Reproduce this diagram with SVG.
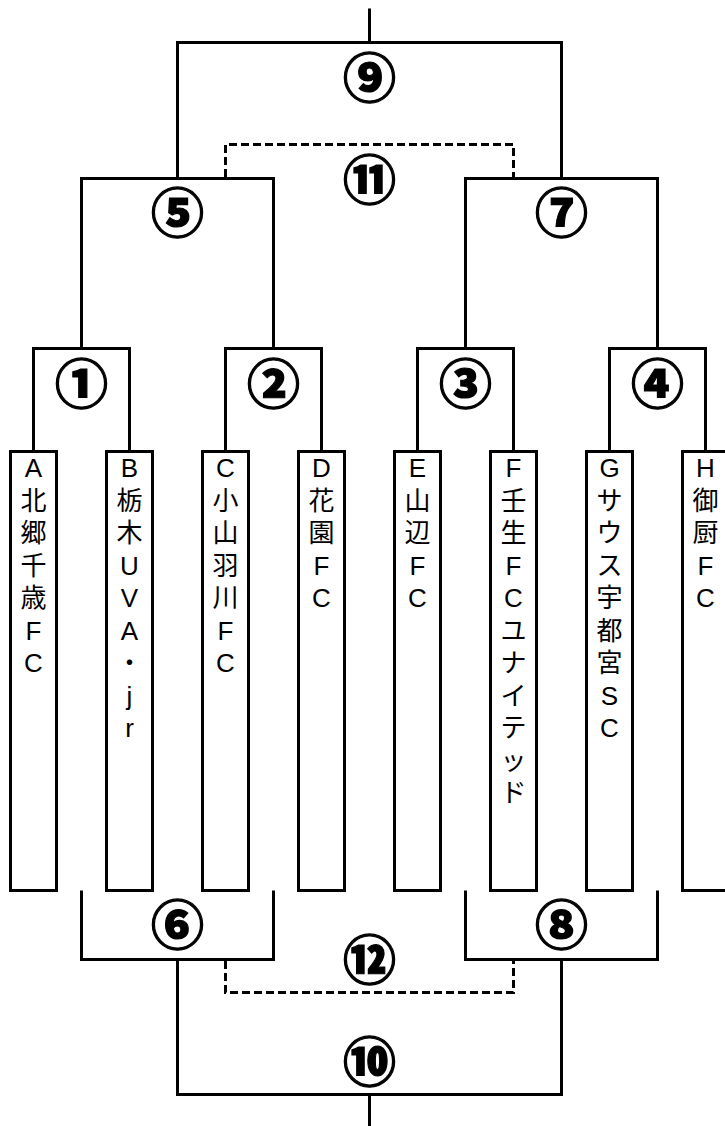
<svg xmlns="http://www.w3.org/2000/svg" width="725" height="1126" viewBox="0 0 725 1126">
<style>
.ln{fill:none;stroke:#000;stroke-width:3;stroke-linecap:square}
.dl{fill:none;stroke:#000;stroke-width:3;stroke-dasharray:8 4}
.box{fill:#fff;stroke:#000;stroke-width:3}
.num{font-family:"Noto Sans CJK JP","DejaVu Sans",sans-serif;font-weight:900;font-size:53px;text-anchor:middle;dominant-baseline:central;fill:#000;stroke:#000;stroke-width:1.2}
.team{font-family:"Liberation Sans","Noto Sans CJK JP",sans-serif;font-size:26px;text-anchor:middle;dominant-baseline:central;fill:#000}
</style>
<rect width="725" height="1126" fill="#fff"/>
<g id="connectors">
<path class="ln" d="M369.5,10 V42.5"/>
<path class="ln" d="M177.5,178 V42.5 H561.5 V178"/>
<path class="ln" d="M81.5,348 V178.5 H273.5 V348"/>
<path class="ln" d="M465.5,348 V178.5 H657.5 V348"/>
<path class="ln" d="M33.5,451 V348.5 H129.5 V451"/>
<path class="ln" d="M225.5,451 V348.5 H321.5 V451"/>
<path class="ln" d="M417.5,451 V348.5 H513.5 V451"/>
<path class="ln" d="M609.5,451 V348.5 H705.5 V451"/>
<path class="ln" d="M81.5,892 V959.5 H273.5 V892"/>
<path class="ln" d="M465.5,892 V959.5 H657.5 V892"/>
<path class="ln" d="M177.5,960 V1094.5 H561.5 V960"/>
<path class="ln" d="M369.5,1095 V1126"/>
<path class="dl" d="M225.5,177 V144.5 H513.5 V177"/>
<path class="dl" d="M225.5,961 V992.5 H513.5 V961"/>
</g>
<g id="match-9"><text class="num" x="369.5" y="75">⑨</text></g>
<g id="match-11"><text class="num" x="369.5" y="177">⑪</text></g>
<g id="match-5"><text class="num" x="177.5" y="210">⑤</text></g>
<g id="match-7"><text class="num" x="561.5" y="210">⑦</text></g>
<g id="match-1"><text class="num" x="81.5" y="381">①</text></g>
<g id="match-2"><text class="num" x="273.5" y="381">②</text></g>
<g id="match-3"><text class="num" x="465.5" y="381">③</text></g>
<g id="match-4"><text class="num" x="657.5" y="381">④</text></g>
<g id="match-6"><text class="num" x="177.5" y="922">⑥</text></g>
<g id="match-8"><text class="num" x="561.5" y="922">⑧</text></g>
<g id="match-12"><text class="num" x="369.5" y="957">⑫</text></g>
<g id="match-10"><text class="num" x="369.5" y="1059">⑩</text></g>
<g id="team-A"><rect class="box" x="10.5" y="451.5" width="46" height="439"/>
<text class="team"><tspan x="33.5" y="468">A</tspan><tspan x="33.5" dy="32.5">北</tspan><tspan x="33.5" dy="32.5">郷</tspan><tspan x="33.5" dy="32.5">千</tspan><tspan x="33.5" dy="32.5">歳</tspan><tspan x="33.5" dy="32.5">F</tspan><tspan x="33.5" dy="32.5">C</tspan></text></g>
<g id="team-B"><rect class="box" x="106.5" y="451.5" width="46" height="439"/>
<text class="team"><tspan x="129.5" y="468">B</tspan><tspan x="129.5" dy="32.5">栃</tspan><tspan x="129.5" dy="32.5">木</tspan><tspan x="129.5" dy="32.5">U</tspan><tspan x="129.5" dy="32.5">V</tspan><tspan x="129.5" dy="32.5">A</tspan><tspan x="129.5" dy="32.5">・</tspan><tspan x="129.5" dy="32.5">j</tspan><tspan x="129.5" dy="32.5">r</tspan></text></g>
<g id="team-C"><rect class="box" x="202.5" y="451.5" width="46" height="439"/>
<text class="team"><tspan x="225.5" y="468">C</tspan><tspan x="225.5" dy="32.5">小</tspan><tspan x="225.5" dy="32.5">山</tspan><tspan x="225.5" dy="32.5">羽</tspan><tspan x="225.5" dy="32.5">川</tspan><tspan x="225.5" dy="32.5">F</tspan><tspan x="225.5" dy="32.5">C</tspan></text></g>
<g id="team-D"><rect class="box" x="298.5" y="451.5" width="46" height="439"/>
<text class="team"><tspan x="321.5" y="468">D</tspan><tspan x="321.5" dy="32.5">花</tspan><tspan x="321.5" dy="32.5">園</tspan><tspan x="321.5" dy="32.5">F</tspan><tspan x="321.5" dy="32.5">C</tspan></text></g>
<g id="team-E"><rect class="box" x="394.5" y="451.5" width="46" height="439"/>
<text class="team"><tspan x="417.5" y="468">E</tspan><tspan x="417.5" dy="32.5">山</tspan><tspan x="417.5" dy="32.5">辺</tspan><tspan x="417.5" dy="32.5">F</tspan><tspan x="417.5" dy="32.5">C</tspan></text></g>
<g id="team-F"><rect class="box" x="490.5" y="451.5" width="46" height="439"/>
<text class="team"><tspan x="513.5" y="468">F</tspan><tspan x="513.5" dy="32.5">壬</tspan><tspan x="513.5" dy="32.5">生</tspan><tspan x="513.5" dy="32.5">F</tspan><tspan x="513.5" dy="32.5">C</tspan><tspan x="513.5" dy="32.5">ユ</tspan><tspan x="513.5" dy="32.5">ナ</tspan><tspan x="513.5" dy="32.5">イ</tspan><tspan x="513.5" dy="32.5">テ</tspan><tspan x="513.5" dy="32.5">ッ</tspan><tspan x="513.5" dy="32.5">ド</tspan></text></g>
<g id="team-G"><rect class="box" x="586.5" y="451.5" width="46" height="439"/>
<text class="team"><tspan x="609.5" y="468">G</tspan><tspan x="609.5" dy="32.5">サ</tspan><tspan x="609.5" dy="32.5">ウ</tspan><tspan x="609.5" dy="32.5">ス</tspan><tspan x="609.5" dy="32.5">宇</tspan><tspan x="609.5" dy="32.5">都</tspan><tspan x="609.5" dy="32.5">宮</tspan><tspan x="609.5" dy="32.5">S</tspan><tspan x="609.5" dy="32.5">C</tspan></text></g>
<g id="team-H"><rect class="box" x="682.5" y="451.5" width="46" height="439"/>
<text class="team"><tspan x="705.5" y="468">H</tspan><tspan x="705.5" dy="32.5">御</tspan><tspan x="705.5" dy="32.5">厨</tspan><tspan x="705.5" dy="32.5">F</tspan><tspan x="705.5" dy="32.5">C</tspan></text></g>
</svg>
